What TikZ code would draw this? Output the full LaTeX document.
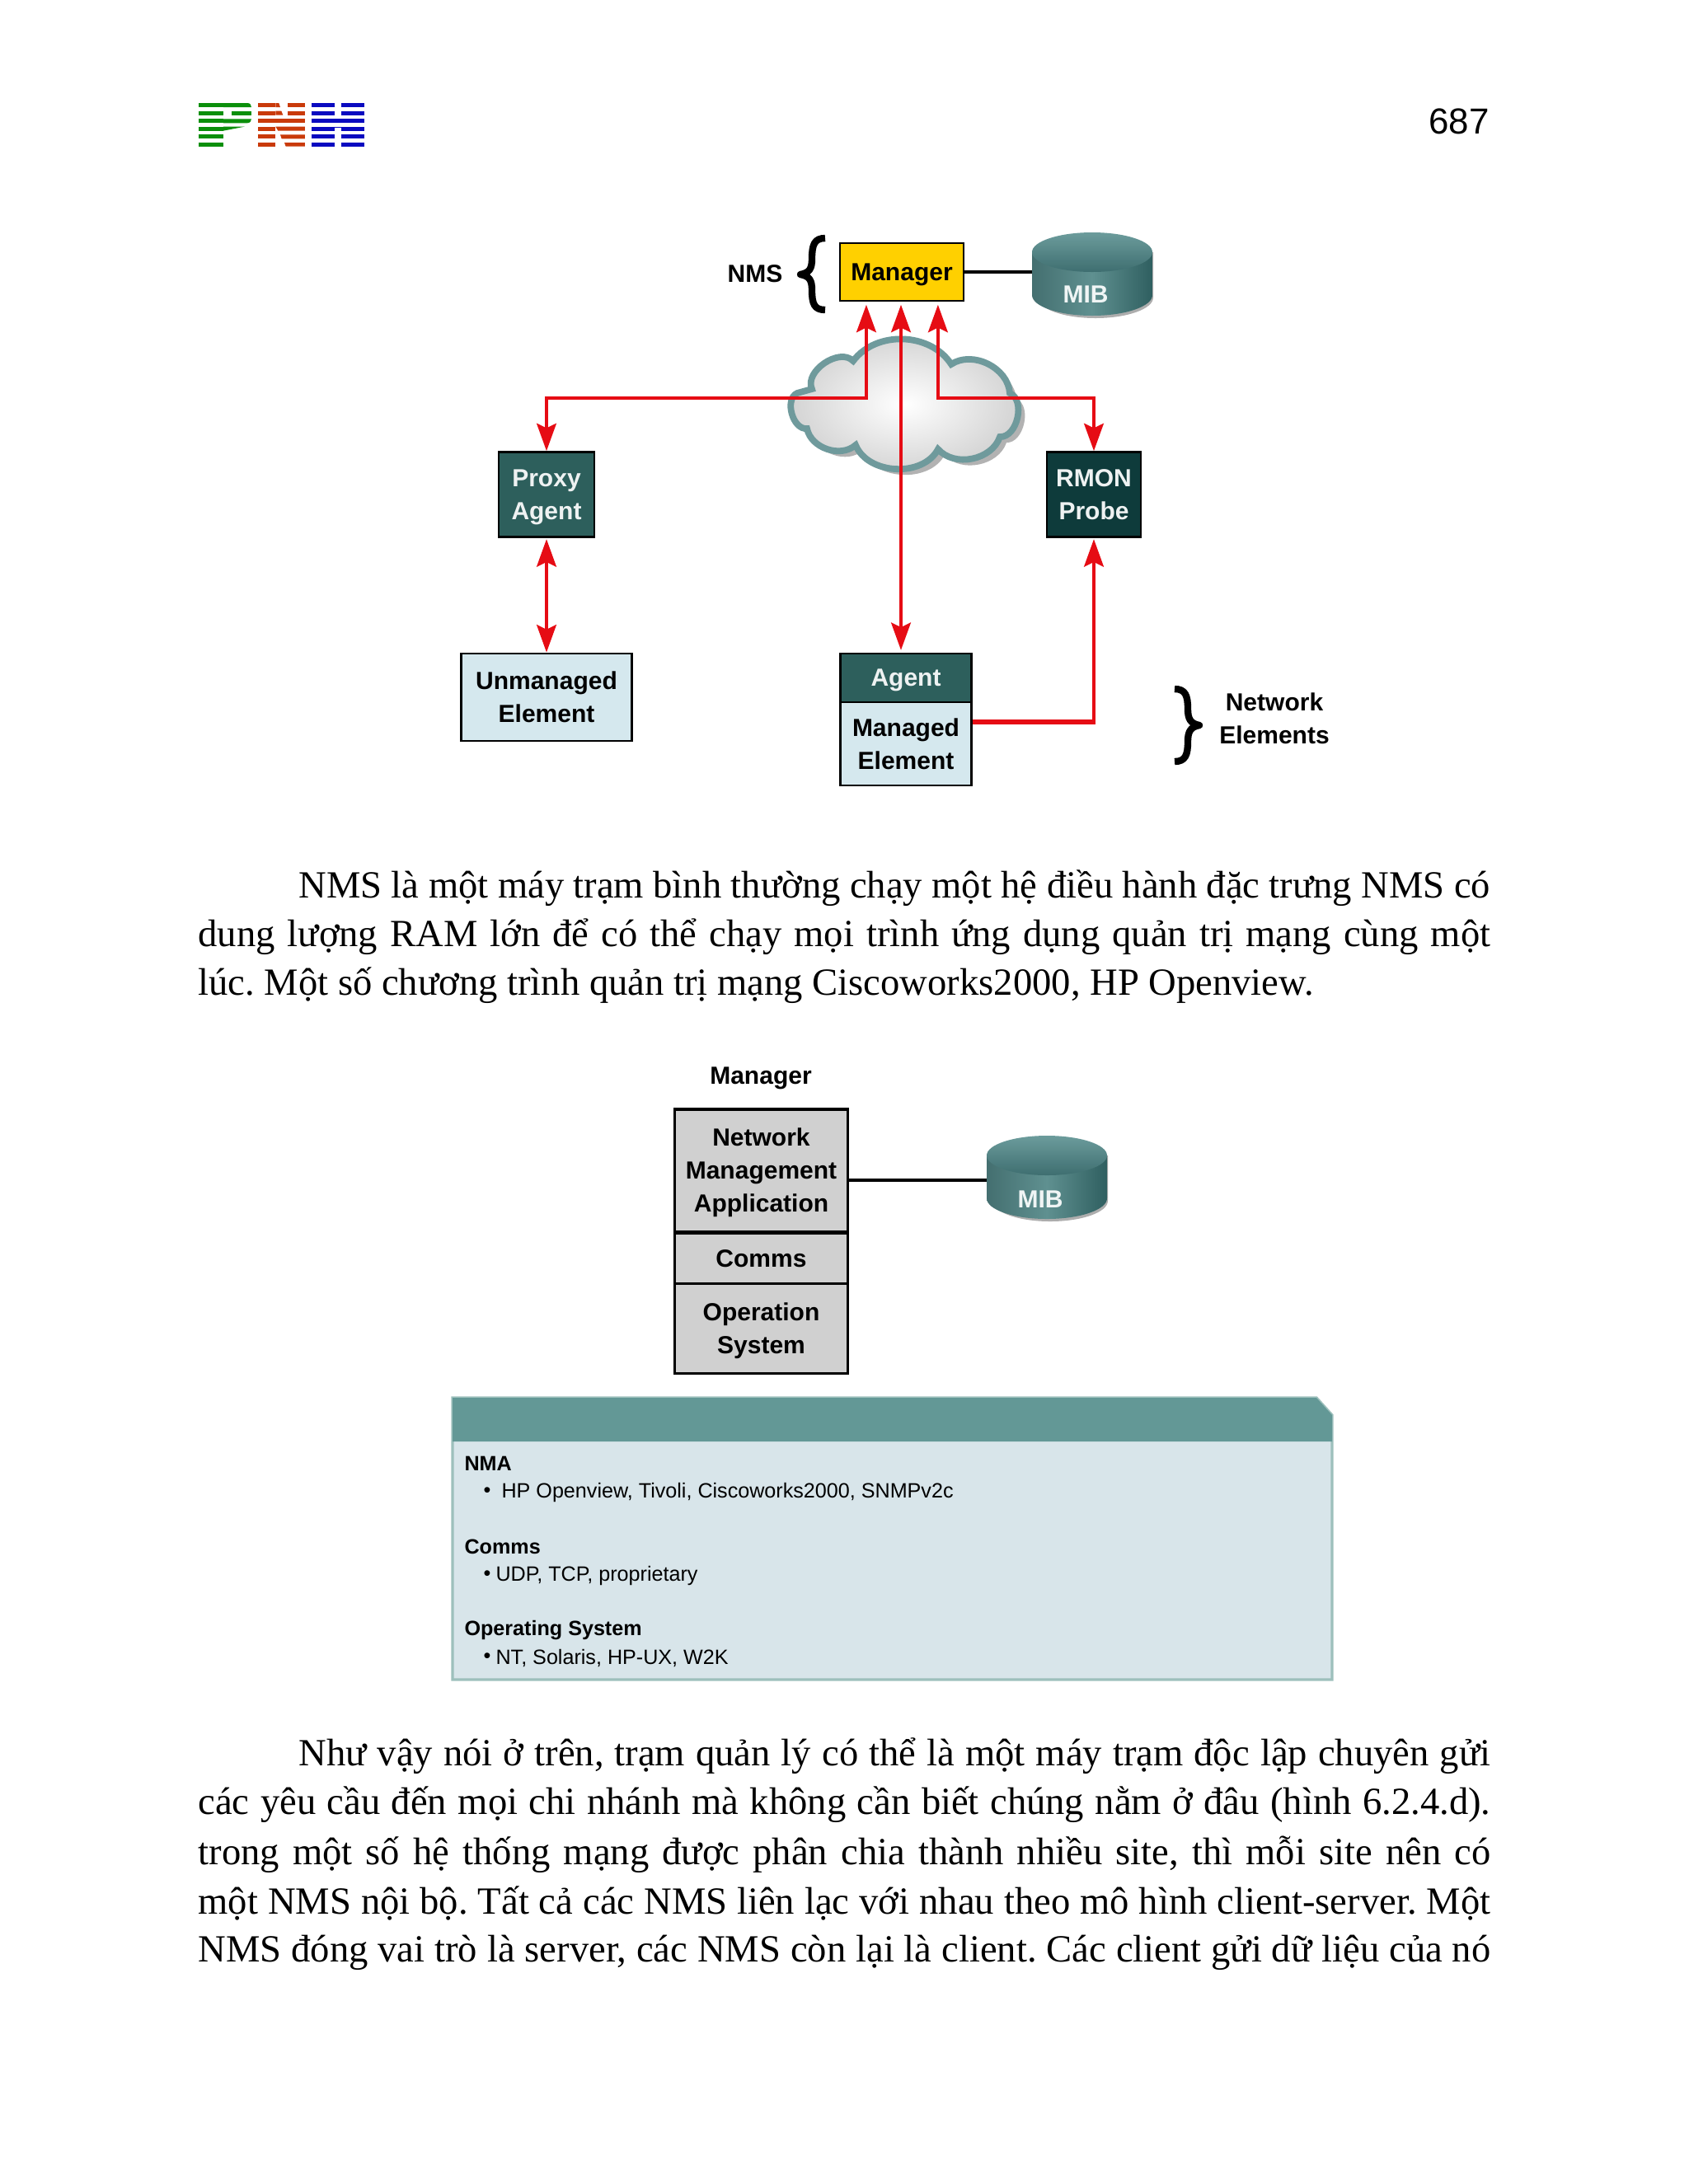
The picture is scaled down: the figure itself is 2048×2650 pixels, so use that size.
\documentclass[tikz,border=0pt]{standalone}
\usepackage{fontspec}
\setmainfont{Liberation Serif}
\newfontfamily\dsans{Liberation Sans}
\usetikzlibrary{arrows.meta}
\frenchspacing
\definecolor{arrowred}{HTML}{E60C14}
\definecolor{tealbox}{HTML}{2D5F5C}
\definecolor{tealdark}{HTML}{0E3B3B}
\definecolor{palebox}{HTML}{D5E8EE}
\definecolor{yellowbox}{HTML}{FFD000}
\definecolor{greybox}{HTML}{D0D0D0}
\definecolor{headfill}{HTML}{639896}
\definecolor{panelfill}{HTML}{D8E5EA}
\definecolor{panelline}{HTML}{9DC0BC}
\definecolor{cloudline}{HTML}{6F9A9C}
\definecolor{logogreen}{HTML}{0B8F0B}
\definecolor{logored}{HTML}{C93A0A}
\definecolor{logoblue}{HTML}{0A0AC0}
\definecolor{mibside}{HTML}{2F5F60}
\definecolor{mibmid}{HTML}{5F9090}
\definecolor{mibtop}{HTML}{6C9C9C}
\definecolor{mibtopb}{HTML}{3E6E70}
\tikzset{
  dtext/.style={font=\dsans\bfseries\fontsize{10.8}{14.4}\selectfont,align=center,inner sep=0pt,text depth=0pt},
  boxbase/.style={dtext,draw=black,line width=1pt,inner sep=0pt},
  darkbox/.style={boxbase,fill=tealbox,text=white!92!tealbox},
  blackbox/.style={boxbase,fill=tealdark,text=white!92!tealbox},
  lightbox/.style={boxbase,fill=palebox,text=black},
  stackbox/.style={boxbase,fill=greybox,minimum width=75.6pt,line width=1.1pt},
  redarrow/.style={draw=arrowred,line width=1.6pt,line join=miter,
    arrows={-Stealth[length=12pt,width=8.5pt,inset=2pt]}},
  redboth/.style={redarrow,arrows={Stealth[length=12pt,width=8.5pt,inset=2pt]-Stealth[length=12pt,width=8.5pt,inset=2pt]}},
  body/.style={anchor=west,inner sep=0pt,font=\fontsize{16.78}{21}\selectfont},
  small/.style={anchor=west,inner sep=0pt,font=\dsans\fontsize{9.05}{11}\selectfont},
  smallb/.style={anchor=west,inner sep=0pt,font=\dsans\bfseries\fontsize{9.05}{11}\selectfont},
  brace/.style={line width=3pt,draw=black,line cap=butt,line join=round},
  plainlabel/.style={dtext}
}
\newcommand{\jline}[3]{\node[body] (#1) at (240,#2) {\makebox[564.4pt][s]{#3}};}
\newcommand{\jindent}[3]{\node[body] (#1) at (362,#2) {\makebox[520.4pt][s]{#3}};}
% MIB cylinder: name, centre x, top-ellipse y, text x, text y
\newcommand{\mibdb}[5]{%
  \fill[black!32] (#2-66,#3) -- (#2-66,#3+55) arc[start angle=180,end angle=0,x radius=70,y radius=25] -- (#2+74,#3) -- cycle;
  \shade[left color=mibside!90,right color=mibside,middle color=mibmid]
    (#2-73,#3) -- (#2-73,#3+52) arc[start angle=180,end angle=0,x radius=73,y radius=25] -- (#2+73,#3) -- cycle;
  \shade[top color=mibtop,bottom color=mibtopb]
    (#2,#3) ellipse[x radius=73,y radius=24];
  \node[dtext,text=white!90!mibtop,minimum width=18pt,minimum height=8pt] (#1) at (#4,#5) {MIB};
}
\begin{document}
\begin{tikzpicture}[x=0.36pt,y=-0.36pt]
\useasboundingbox (0,0) rectangle (2048,2650);
\fill[white] (0,0) rectangle (2048,2650);

% logo
\begin{scope}[shift={(200,90)},x=0.12pt,y=-0.12pt]
 \foreach \y in {105,134,163,191,220,249}{\fill[logogreen] (123,\y) rectangle (213,\y+15);}
 \fill[logogreen] (213,105) -- (300,105) .. controls (310,105) and (315,112) .. (315,120) -- (213,120) -- cycle;
 \fill[logogreen] (242,134) rectangle (315,149);
 \fill[logogreen] (213,163) -- (315,163) .. controls (315,170) and (310,178) .. (300,178) -- (213,178) -- cycle;
 \fill[logogreen] (213,191) -- (290,191) -- (213,206) -- cycle;
 \foreach \y in {105,134,163,191,220,249}{\fill[logored] (340,\y) rectangle (403,\y+15);}
 \fill[logored] (403,105) -- (415,105) -- (420,120) -- (403,120) -- cycle;
 \fill[logored] (403,134) -- (424,134) -- (430,149) -- (403,149) -- cycle;
 \fill[logored] (447,105) rectangle (510,120);
 \fill[logored] (447,134) rectangle (510,149);
 \fill[logored] (403,163) rectangle (510,178);
 \fill[logored] (403,191) -- (510,191) -- (510,206) -- (412,206) -- cycle;
 \fill[logored] (420,220) -- (510,220) -- (510,235) -- (425,235) -- cycle;
 \fill[logored] (435,249) -- (510,249) -- (510,263) -- (440,263) -- cycle;
 \foreach \y in {105,134,163,191,220,249}{\fill[logoblue] (533,\y) rectangle (617,\y+15);\fill[logoblue] (642,\y) rectangle (725,\y+15);}
 \fill[logoblue] (617,163) rectangle (642,178);
 \fill[logoblue] (617,191) rectangle (642,195);
\end{scope}
\node[anchor=east,inner sep=0pt,font=\dsans\fontsize{15.8}{18}\selectfont] (pageno) at (1807,147) {687};

% cloud
\begin{scope}[shift={(8,7)}]
 \fill[black!30] (1035,438) to[bend left=55] (1154,442) to[bend left=60] (1225,477) to[bend left=80] (1213,530) to[bend left=60] (1138,545) to[bend left=65] (1038,540) to[bend left=60] (979,520) to[bend left=80] (967,477) -- (985,472) to[bend left=80] (1035,438) -- cycle;
\end{scope}
\path[draw=cloudline,line width=2.8pt,inner color=white,outer color=black!18]
 (1035,438) to[bend left=55] (1154,442) to[bend left=60] (1225,477) to[bend left=80] (1213,530) to[bend left=60] (1138,545) to[bend left=65] (1038,540) to[bend left=60] (979,520) to[bend left=80] (967,477) -- (985,472) to[bend left=80] (1035,438) -- cycle;

% first diagram
\node[boxbase,fill=yellowbox,minimum width=54pt,minimum height=25.2pt] (mgr) at (1094,330) {Manager};
\node[plainlabel] (nms) at (916,332) {NMS};
\draw[line width=1.7pt,black] (mgr.east) -- ++(90,0) coordinate (mibAjoin);
\mibdb{mibA}{1325}{306}{1317}{357}
\node[darkbox,minimum width=41.8pt,minimum height=37pt] (proxy) at (663,600) {Proxy\\Agent};
\node[blackbox,minimum width=41pt,minimum height=37pt] (rmon) at (1327,600) {RMON\\Probe};
\node[lightbox,minimum width=74.5pt,minimum height=38.2pt] (unman) at (663,846) {Unmanaged\\Element};
\node[darkbox,minimum width=57pt,minimum height=21.2pt] (agent) at (1099,822.5) {Agent};
\node[lightbox,minimum width=57pt,minimum height=36.4pt] (managed) at (1099,902.5) {Managed\\Element};
\node[plainlabel] (netel) at (1546,872) {Network\\Elements};

\coordinate (lk) at (663,483);
\coordinate (rk) at (1327,483);
\draw[redboth,shorten <=1.2pt] ([xshift=-15.5pt]mgr.south) |- (lk) -- (proxy.north);
\draw[redboth,shorten <=1.2pt] ([xshift=15.8pt]mgr.south) |- (rk) -- (rmon.north);
\draw[redboth,shorten <=1.2pt,shorten >=1pt] ([xshift=-0.36pt]mgr.south) -- ([xshift=-2.16pt]agent.north);
\draw[redboth,shorten <=0.5pt] (proxy.south) -- (unman.north);
\draw[redarrow,shorten >=0.5pt] ([yshift=9.4pt]managed.east) -| (rmon.south);
\draw[line width=2.2pt,arrowred] ([yshift=9.4pt]managed.east) -- ([yshift=9.4pt]managed.east -| rmon.south);

% braces
\draw[brace] (1001,289) .. controls (988,289) and (985,297) .. (985,314) .. controls (985,326) and (982,331) .. (971,333) .. controls (982,335) and (985,340) .. (985,352) .. controls (985,369) and (988,376) .. (1001,376);
\draw[brace] (1425,836) .. controls (1438,836) and (1441,844) .. (1441,860) .. controls (1441,872) and (1444,878) .. (1455,880) .. controls (1444,882) and (1441,888) .. (1441,900) .. controls (1441,916) and (1438,924) .. (1425,924);

% paragraph 1
\jindent{p1a}{1078}{NMS là một máy trạm bình thường chạy một hệ điều hành đặc trưng NMS có}
\jline{p1b}{1137}{dung lượng RAM lớn để có thể chạy mọi trình ứng dụng quản trị mạng cùng một}
\node[body] (p1c) at (240,1196) {lúc. Một số chương trình quản trị mạng Ciscoworks2000, HP Openview.};

% second diagram
\node[plainlabel] (mgrlabel) at (923,1305) {Manager};
\node[stackbox,minimum height=53.3pt] (nma) at (923.5,1420) {Network\\Management\\Application};
\node[stackbox,minimum height=22.7pt] (comms) at (923.5,1527.5) {Comms};
\node[stackbox,minimum height=39pt] (opsys) at (923.5,1612) {Operation\\System};
\draw[line width=1.7pt,black] ([yshift=-4.3pt]nma.east) -- ++(175,0) coordinate (mibBjoin);
\mibdb{mibB}{1270}{1402}{1262}{1455}

% panel
\draw[line width=1.2pt,draw=panelline,fill=panelfill] (549,1696) -- (1597,1696) -- (1616,1717) -- (1616,2038) -- (549,2038) -- cycle;
\fill[headfill] (549,1696) -- (1597,1696) -- (1616,1717) -- (1616,1749) -- (549,1749) -- cycle;
\node[smallb] (t1) at (563,1776) {NMA};
\node[small] (b1) at (586,1811) {•};
\node[small] (t2) at (608,1811) {HP Openview, Tivoli, Ciscoworks2000, SNMPv2c};
\node[smallb] (t3) at (563,1877) {Comms};
\node[small] (b2) at (586,1912) {•};
\node[small] (t4) at (601,1912) {UDP, TCP, proprietary};
\node[smallb] (t5) at (563,1978) {Operating System};
\node[small] (b3) at (586,2012) {•};
\node[small] (t6) at (601,2012) {NT, Solaris, HP-UX, W2K};

% paragraph 2
\jindent{p2a}{2131}{Như vậy nói ở trên, trạm quản lý có thể là một máy trạm độc lập chuyên gửi}
\jline{p2b}{2190}{các yêu cầu đến mọi chi nhánh mà không cần biết chúng nằm ở đâu (hình 6.2.4.d).}
\jline{p2c}{2250}{trong một số hệ thống mạng được phân chia thành nhiều site, thì mỗi site nên có}
\jline{p2d}{2309}{một NMS nội bộ. Tất cả các NMS liên lạc với nhau theo mô hình client-server. Một}
\jline{p2e}{2369}{NMS đóng vai trò là server, các NMS còn lại là client. Các client gửi dữ liệu của nó}
\end{tikzpicture}
\end{document}
